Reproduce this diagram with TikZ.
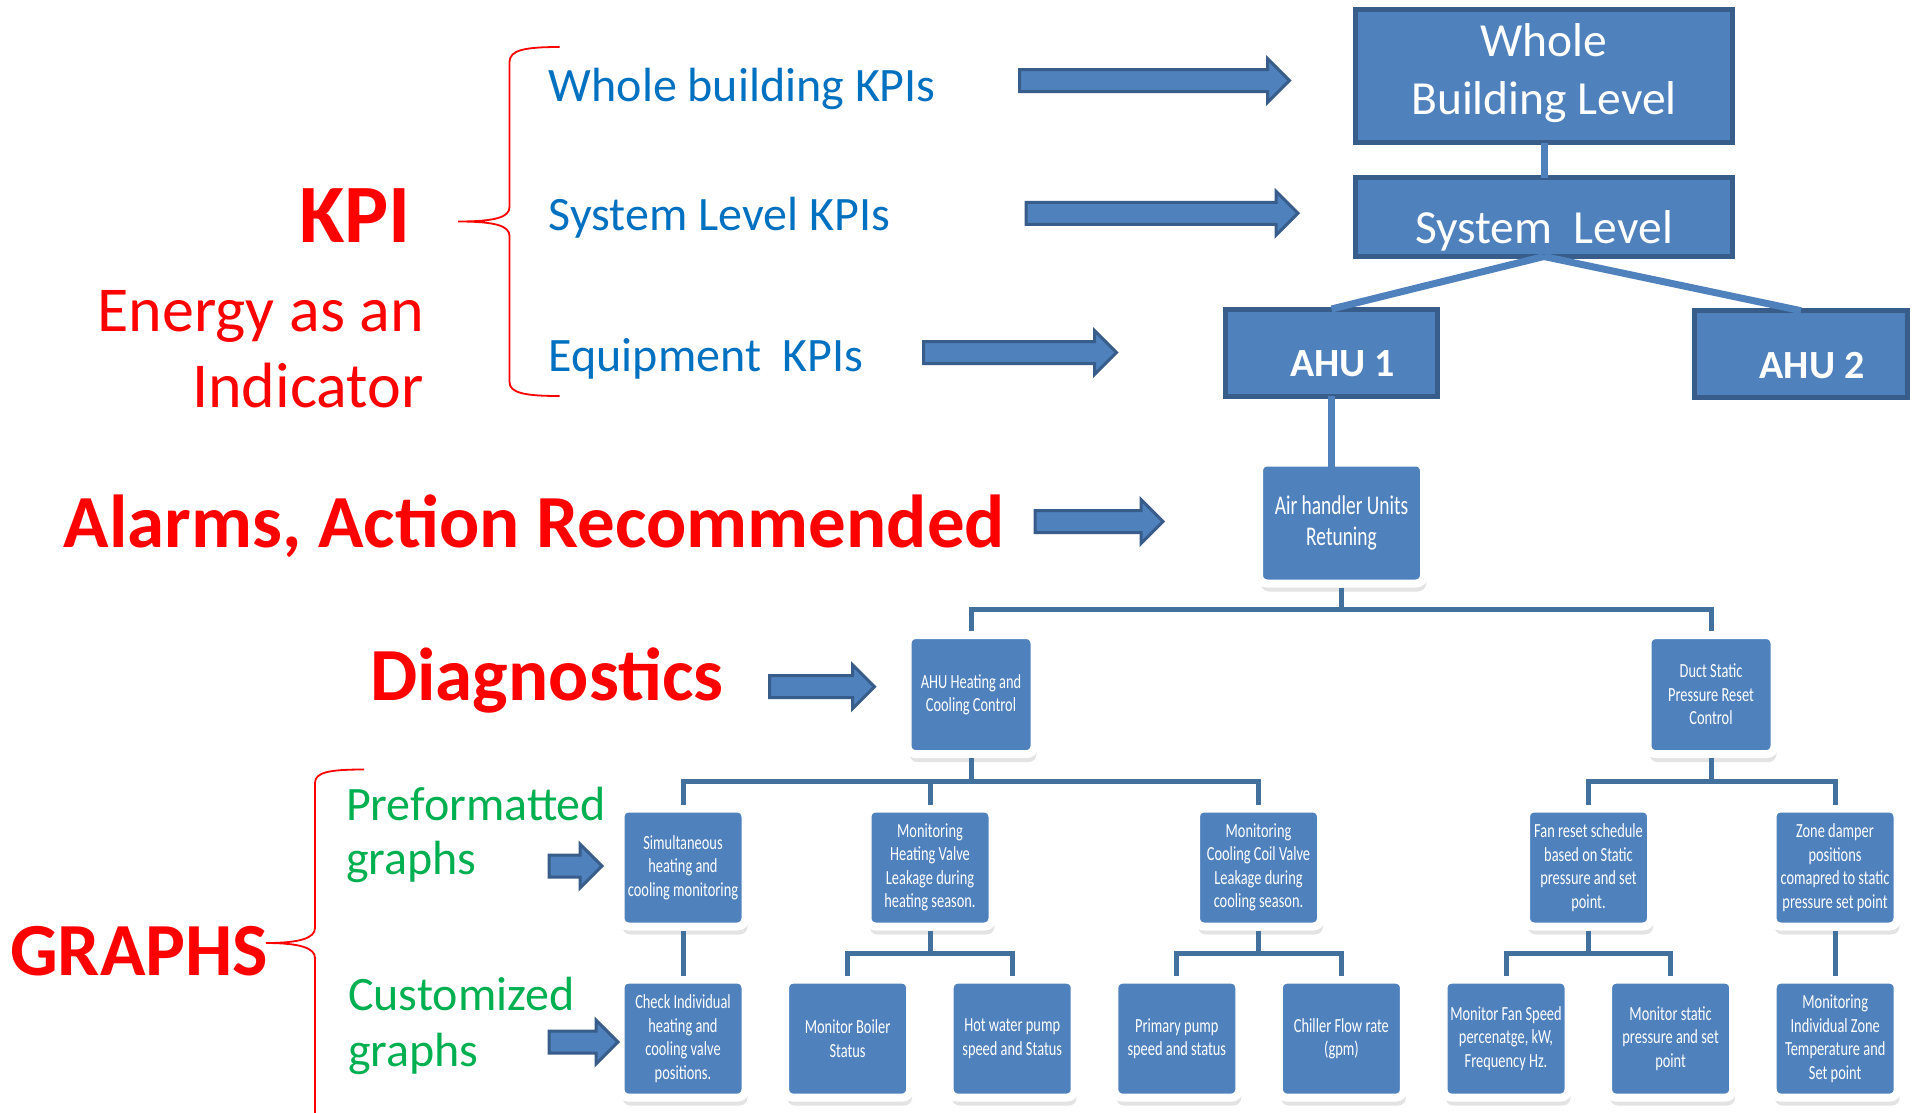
\documentclass[tikz,border=0pt]{standalone}
\usepackage{fontspec}
\setmainfont{Carlito}
\newfontfamily\narrowfont[FakeStretch=0.72]{Carlito}
\usetikzlibrary{shapes.arrows,shadows,calc,positioning}
\definecolor{boxblue}{HTML}{4F81BD}
\definecolor{boxline}{HTML}{385D8A}
\definecolor{treeline}{HTML}{41719C}
\definecolor{kpired}{HTML}{FF0000}
\definecolor{kpiblue}{HTML}{0070C0}
\definecolor{graphgreen}{HTML}{00B050}

\begin{document}
\begin{tikzpicture}[x=1pt,y=-1pt,
    top box/.style={rectangle,draw=boxline,fill=boxblue,line width=5pt,outer sep=0pt,text=white,inner sep=0pt,align=center,font=\fontsize{47.5}{58}\selectfont},
    tree box/.style={rectangle,draw=white,fill=boxblue,line width=8pt,outer sep=0pt,rounded corners=8pt,drop shadow={shadow xshift=2pt,shadow yshift=-8pt,opacity=0.22},text=white,inner sep=0pt,align=center,minimum width=125pt,minimum height=118pt,font=\narrowfont\fontsize{20}{23.5}\selectfont},
    block arrow/.style={single arrow,draw=boxline,fill=boxblue,line width=3pt,minimum width=41pt,single arrow head extend=11pt,inner xsep=0pt,inner ysep=9.5pt,anchor=tail},
    top line/.style={draw=boxblue,line width=7pt},
    tree line/.style={draw=treeline,line width=5pt,shorten <=4pt,shorten >=4pt},
    bus/.style={to path={|- ($(\tikztostart)!0.5!(\tikztotarget)$) -| (\tikztotarget)}},
    brace line/.style={draw=kpired,line width=1.8pt},
    red head/.style={text=kpired,inner sep=0pt,font=\bfseries\fontsize{75}{88}\selectfont},
    blue text/.style={text=kpiblue,inner sep=0pt,anchor=base west,font=\fontsize{48}{55}\selectfont},
    green text/.style={text=graphgreen,inner sep=0pt,anchor=base west,align=left}]

    \useasboundingbox (0,0) rectangle (1916,1112);
    \fill[white] (0,0) rectangle (1916,1112);

    % levels on the right
    \node[top box,minimum width=377pt,minimum height=133pt,text depth=14pt] (whole) at (1544,76) {Whole\\Building Level};
    \node[top box,minimum width=377pt,minimum height=79pt,text height=62pt,text depth=9.5pt,below=35pt of whole] (system) {System\ \ Level};
    \node[top box,minimum width=212pt,minimum height=87pt,text height=48pt,text depth=0pt,font=\bfseries\fontsize{40}{48}\selectfont] (ahu1) at (1331.5,352.5) {\hspace*{22pt}AHU 1};
    \node[top box,minimum width=213pt,minimum height=87pt,text height=48pt,text depth=0pt,font=\bfseries\fontsize{40}{48}\selectfont] (ahu2) at (1801,354.2) {\hspace*{22pt}AHU 2};

    \node[tree box,minimum width=165pt,minimum height=121pt,font=\narrowfont\fontsize{27}{31}\selectfont] (airh) at (1341.5,523) {Air handler Units\\Retuning};

    \node[tree box,minimum width=127pt,minimum height=119pt] (heat) at (971,694.6) {AHU Heating and\\Cooling Control};
    \node[tree box,minimum width=127pt,minimum height=119pt] (duct) at (1711,694.6) {Duct Static\\Pressure Reset\\Control};

    \node[tree box] (simul) at (683,867.5) {Simultaneous\\heating and\\cooling monitoring};
    \node[tree box] (mheat) at (930,867.5) {Monitoring\\Heating Valve\\Leakage during\\heating season.};
    \node[tree box] (mcool) at (1258.5,867.5) {Monitoring\\Cooling Coil Valve\\Leakage during\\cooling season.};
    \node[tree box] (fan) at (1588.5,867.5) {Fan reset schedule\\based on Static\\pressure and set\\point.};
    \node[tree box] (zone) at (1835,867.5) {Zone damper\\positions\\comapred to static\\pressure set point};

    \node[tree box] (check) at (683,1038.6) {Check Individual\\heating and\\cooling valve\\positions.};
    \node[tree box,right=39.6pt of check] (boiler) {Monitor Boiler\\Status};
    \node[tree box,right=39.6pt of boiler] (hotw) {Hot water pump\\speed and Status};
    \node[tree box,right=39.6pt of hotw] (prim) {Primary pump\\speed and status};
    \node[tree box,right=39.6pt of prim] (chill) {Chiller Flow rate\\(gpm)};
    \node[tree box,right=39.6pt of chill] (mfan) {Monitor Fan Speed\\percenatge, kW,\\Frequency Hz.};
    \node[tree box,right=39.6pt of mfan] (mstat) {Monitor static\\pressure and set\\point};
    \node[tree box,right=39.6pt of mstat] (mzone) {Monitoring\\Individual Zone\\Temperature and\\Set point};

    \draw[top line] (whole) -- (system);
    \draw[top line] (system.south) -- (ahu1.north);
    \draw[top line] (system.south) -- (ahu2.north);
    \draw[top line,shorten >=-28pt] (ahu1.south) -- (ahu1.south |- airh.north);

    \path[tree line] (airh.south) edge[bus] (heat.north) edge[bus] (duct.north);
    \path[tree line] (heat.south) edge[bus] (simul.north) edge[bus] (mheat.north) edge[bus] (mcool.north);
    \path[tree line] (duct.south) edge[bus] (fan.north) edge[bus] (zone.north);
    \path[tree line] (simul.south) edge[bus] (check.north);
    \path[tree line] (mheat.south) edge[bus] (boiler.north) edge[bus] (hotw.north);
    \path[tree line] (mcool.south) edge[bus] (prim.north) edge[bus] (chill.north);
    \path[tree line] (fan.south) edge[bus] (mfan.north) edge[bus] (mstat.north);
    \path[tree line] (zone.south) edge[bus] (mzone.north);

    % left side texts
    \node[red head,anchor=base,font=\bfseries\fontsize{83}{96}\selectfont] (kpi) at (355,242.7) {KPI};
    \node[text=kpired,inner sep=0pt,anchor=east,align=right,font=\fontsize{64}{76.3}\selectfont] (energy) at (424,349.2) {Energy as an\\Indicator};
    \node[blue text] (kpiwhole) at (548.6,101.7) {Whole building KPIs};
    \node[blue text] (kpisystem) at (548.6,230) {System Level KPIs};
    \node[blue text] (kpiequip) at (548.6,371.7) {Equipment\ \ KPIs};
    \node[red head,anchor=base west] (alarms) at (63.5,547) {Alarms, Action Recommended};
    \node[red head,anchor=base west] (diag) at (370,700) {Diagnostics};
    \node[red head,anchor=base west] (graphs) at (9.8,975) {GRAPHS};
    \node[green text,font=\fontsize{48}{53.5}\selectfont] (preform) at (345.8,874) {Preformatted\\graphs};
    \node[green text,font=\fontsize{48}{56}\selectfont] (custom) at (348,1066) {Customized\\graphs};

    % braces
    \draw[brace line] (559.6,47) .. controls (525,47) and (509.5,50) .. (509.5,62) -- (509.5,207)
        .. controls (509.5,217) and (496,221.5) .. (458,221.5)
        .. controls (496,221.5) and (509.5,226) .. (509.5,236) -- (509.5,382)
        .. controls (509.5,393) and (525,396) .. (559.6,396);
    \draw[brace line] (364,769.5) .. controls (330,769.5) and (315,772) .. (315,783) -- (315,928)
        .. controls (315,938) and (300,943) .. (266,943)
        .. controls (300,943) and (315,948) .. (315,958) -- (315,1120);

    % block arrows
    \node[block arrow,minimum height=270pt] (arr1) at (1018,80.5) {};
    \node[block arrow,minimum height=272pt] (arr2) at (1024.5,213.3) {};
    \node[block arrow,minimum height=193pt] (arr3) at (922,352.5) {};
    \node[block arrow,minimum height=128pt] (arr4) at (1033.5,521.5) {};
    \node[block arrow,minimum height=105pt] (arr5) at (768,686.7) {};
    \node[block arrow,minimum height=53pt] (arr6) at (547.5,866) {};
    \node[block arrow,minimum height=69pt] (arr7) at (547.5,1042) {};
\end{tikzpicture}
\end{document}
